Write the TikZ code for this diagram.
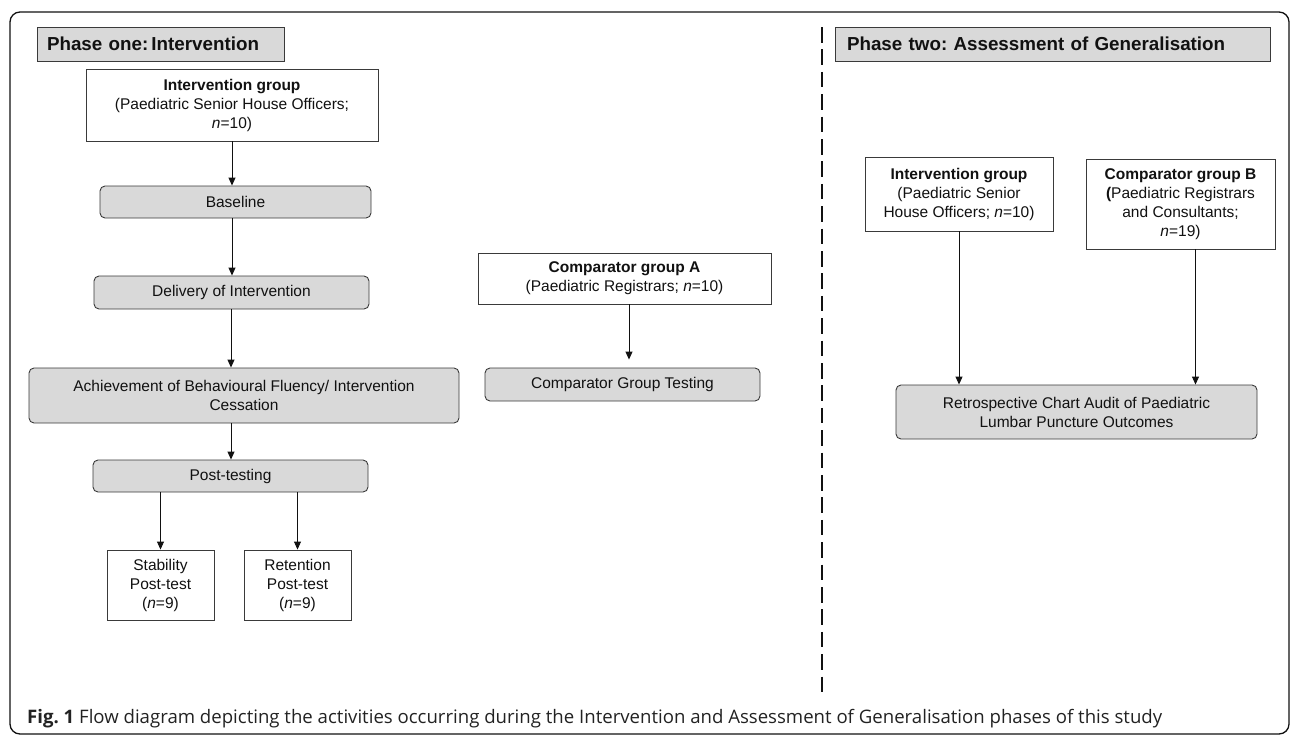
\documentclass[tikz,border=0pt]{standalone}
\usepackage{fontspec}
\setmainfont{Liberation Sans}
\newfontfamily\capfont{Open Sans}
\usetikzlibrary{arrows.meta,calc}
\definecolor{boxline}{HTML}{3A3A3A}
\definecolor{boxfill}{HTML}{D9D9D9}
\definecolor{txt}{HTML}{111111}
\definecolor{capcol}{HTML}{222222}
\frenchspacing
\begin{document}
\begin{tikzpicture}[x=1pt,y=-1pt,
  box/.style={draw=boxline, line width=0.9pt, fill=white, inner sep=0pt, align=center,
    font=\fontsize{15.5}{19}\selectfont, text=txt},
  greybox/.style={box, fill=boxfill, rounded corners=5pt},
  hdr/.style={draw=boxline, line width=0.9pt, fill=boxfill, inner ysep=0pt, minimum height=34pt,
    align=left, font=\bfseries\fontsize{18.8}{22}\selectfont, text=txt},
  arr/.style={-{Triangle[length=8pt,width=7pt]}, line width=0.9pt, draw=txt},
  frame/.style={draw=txt, line width=1.3pt, rounded corners=10pt},
  divider/.style={draw=txt, line width=2.4pt, dash pattern=on 15.6pt off 6.8pt}
]
\useasboundingbox (0,0) rectangle (1290,736);
\draw[frame] (10,12) rectangle (1289,734);

% headers
\node[hdr, text width=227pt, inner xsep=10pt] (h1) at (160.5,44) {Phase one:\,Intervention};
\node[hdr, text width=411pt, inner xsep=12pt] (h2) at (1052.5,44) {Phase two: Assessment of Generalisation};

% phase one
\node[box, minimum width=292pt, minimum height=72pt] (ig1) at (232,105)
  {\textbf{Intervention group}\\(Paediatric Senior House Officers;\\\textit{n}=10)};
\node[greybox, minimum width=271pt, minimum height=32pt] (base) at (235.5,202) {Baseline};
\node[greybox, minimum width=275pt, minimum height=33pt] (deliv) at (231.5,292.5) {Delivery of Intervention};
\node[greybox, minimum width=430pt, minimum height=55pt] (ach) at (244,395.5)
  {Achievement of Behavioural Fluency/ Intervention\\Cessation};
\node[greybox, minimum width=275pt, minimum height=32pt] (post) at (230.5,476) {Post-testing};
\node[box, minimum width=107pt, minimum height=70pt] (stab) at (160.5,585)
  {Stability\\Post-test\\(\textit{n}=9)};
\node[box, minimum width=107pt, minimum height=70pt] (ret) at (297.5,585)
  {Retention\\Post-test\\(\textit{n}=9)};

% comparator A
\node[box, minimum width=293pt, minimum height=51pt] (ca) at (624.5,278.5)
  {\textbf{Comparator group A}\\(Paediatric Registrars; \textit{n}=10)};
\node[greybox, minimum width=275pt, minimum height=33pt] (cgt) at (622.5,384.5) {Comparator Group Testing};

% phase two
\node[box, minimum width=188pt, minimum height=74pt] (ig2) at (959,194)
  {\textbf{Intervention group}\\(Paediatric Senior\\House Officers; \textit{n}=10)};
\node[box, minimum width=189pt, minimum height=90pt] (cb) at (1180.5,204)
  {\textbf{Comparator group B}\\\textbf{(}Paediatric Registrars\\and Consultants;\\\textit{n}=19)};
\node[greybox, minimum width=361pt, minimum height=54pt] (retro) at (1076.5,412)
  {Retrospective Chart Audit of Paediatric\\Lumbar Puncture Outcomes};

% arrows
\draw[arr] (ig1.south) -- (ig1.south |- base.north);
\draw[arr] ([xshift=-3.5pt]base.south) -- ([xshift=-3.5pt]base.south |- deliv.north);
\draw[arr] ([xshift=-0.5pt]deliv.south) -- ([xshift=-0.5pt]deliv.south |- ach.north);
\draw[arr] ([xshift=0.5pt]post.north |- ach.south) -- ([xshift=0.5pt]post.north);
\draw[arr] (post.south -| stab.north) -- (stab.north);
\draw[arr] (post.south -| ret.north) -- (ret.north);
\draw[arr, shorten >=8pt] ([xshift=4.5pt]ca.south) -- ([xshift=4.5pt]ca.south |- cgt.north);
\draw[arr] (ig2.south) -- (ig2.south |- retro.north);
\draw[arr] ([xshift=15pt]cb.south) -- ([xshift=15pt]cb.south |- retro.north);

% divider
\coordinate (dtop) at (822,27);
\coordinate (dbot) at (822,692);
\draw[divider] (dtop) -- (dbot);

% caption
\node[anchor=base west, inner sep=0pt, font=\capfont\fontsize{18.6}{22}\selectfont, text=capcol] (cap) at (27,723)
  {\textbf{Fig. 1} Flow diagram depicting the activities occurring during the Intervention and Assessment of Generalisation phases of this study};
\end{tikzpicture}
\end{document}
